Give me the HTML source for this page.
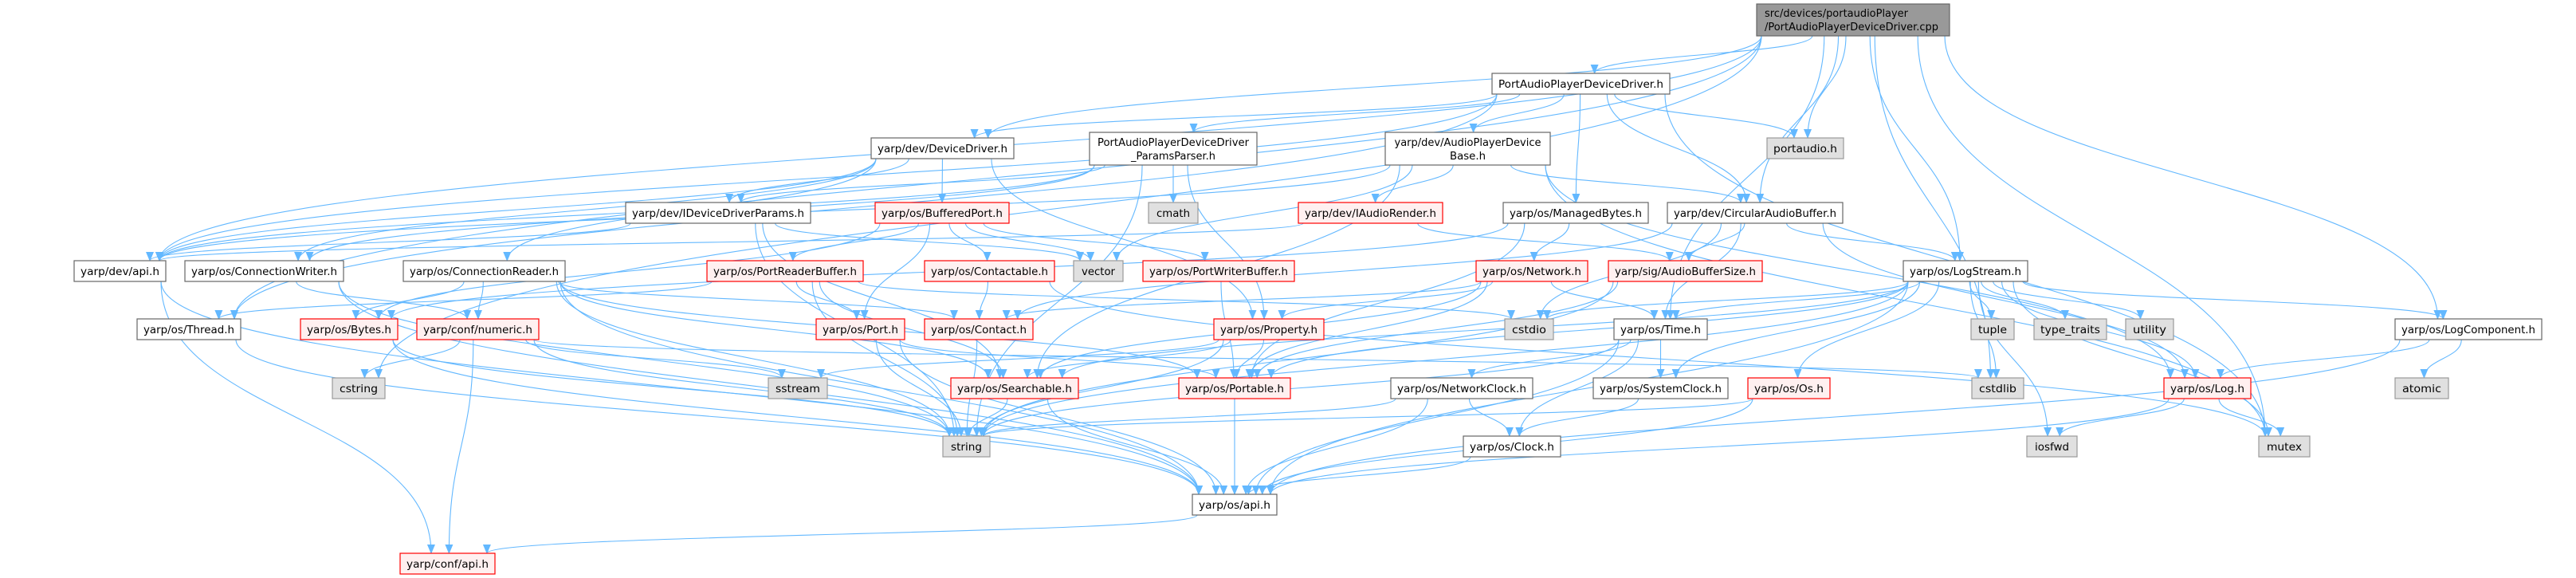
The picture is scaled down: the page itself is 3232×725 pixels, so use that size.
<!DOCTYPE html>
<html><head><meta charset="utf-8"><style>
html,body{margin:0;padding:0;background:#fff;}
svg{display:block;}
text{font-family:"DejaVu Sans","Liberation Sans",sans-serif;font-size:13px;fill:#000;}
.w rect{fill:#fff;stroke:#666;stroke-width:1.2}
.r rect{fill:#fff0f0;stroke:#ff0000;stroke-width:1.2}
.g rect{fill:#e0e0e0;stroke:#999;stroke-width:1.2}
.t rect{fill:#999;stroke:#666;stroke-width:1.2}
.e{fill:none;stroke:#63b8ff;stroke-width:1.1}
</style></head><body>
<svg id="s" width="3232" height="725" viewBox="0 0 3232 725" xmlns="http://www.w3.org/2000/svg">
<defs><marker id="a" markerWidth="12" markerHeight="10" refX="11" refY="5" orient="auto" markerUnits="userSpaceOnUse"><path d="M0,0 L12,5 L0,10 z" fill="#63b8ff"/></marker></defs>
<g id="edges"></g>
<g id="nodes">
<g class="t" id="top"><rect x="2204" y="5" width="242" height="40"/><text x="2214" y="21" textLength="180" lengthAdjust="spacingAndGlyphs">src/devices/portaudioPlayer</text><text x="2214" y="38" textLength="218" lengthAdjust="spacingAndGlyphs">/PortAudioPlayerDeviceDriver.cpp</text></g>
<g class="w" id="padd"><rect x="1872" y="92" width="223" height="26"/><text x="1983.5" y="110" text-anchor="middle" textLength="207" lengthAdjust="spacingAndGlyphs">PortAudioPlayerDeviceDriver.h</text></g>
<g class="w" id="devdrv"><rect x="1093" y="173" width="179" height="26"/><text x="1182.5" y="191" text-anchor="middle" textLength="163" lengthAdjust="spacingAndGlyphs">yarp/dev/DeviceDriver.h</text></g>
<g class="w" id="params"><rect x="1367" y="166" width="210" height="41"/><text x="1472" y="183" text-anchor="middle" textLength="190" lengthAdjust="spacingAndGlyphs">PortAudioPlayerDeviceDriver</text><text x="1472" y="200" text-anchor="middle" textLength="106" lengthAdjust="spacingAndGlyphs">_ParamsParser.h</text></g>
<g class="w" id="apdb"><rect x="1738" y="166" width="207" height="41"/><text x="1841.5" y="183" text-anchor="middle" textLength="184" lengthAdjust="spacingAndGlyphs">yarp/dev/AudioPlayerDevice</text><text x="1841.5" y="200" text-anchor="middle" textLength="45" lengthAdjust="spacingAndGlyphs">Base.h</text></g>
<g class="g" id="portaudio"><rect x="2217" y="173" width="96" height="26"/><text x="2265" y="191" text-anchor="middle" textLength="80" lengthAdjust="spacingAndGlyphs">portaudio.h</text></g>
<g class="w" id="idp"><rect x="785" y="254" width="232" height="26"/><text x="901" y="272" text-anchor="middle" textLength="216" lengthAdjust="spacingAndGlyphs">yarp/dev/IDeviceDriverParams.h</text></g>
<g class="r" id="bport"><rect x="1098" y="254" width="168" height="26"/><text x="1182" y="272" text-anchor="middle" textLength="152" lengthAdjust="spacingAndGlyphs">yarp/os/BufferedPort.h</text></g>
<g class="g" id="cmath"><rect x="1441" y="254" width="62" height="26"/><text x="1472" y="272" text-anchor="middle" textLength="42" lengthAdjust="spacingAndGlyphs">cmath</text></g>
<g class="r" id="iar"><rect x="1629" y="254" width="181" height="26"/><text x="1719.5" y="272" text-anchor="middle" textLength="165" lengthAdjust="spacingAndGlyphs">yarp/dev/IAudioRender.h</text></g>
<g class="w" id="mbytes"><rect x="1886" y="254" width="182" height="26"/><text x="1977" y="272" text-anchor="middle" textLength="166" lengthAdjust="spacingAndGlyphs">yarp/os/ManagedBytes.h</text></g>
<g class="w" id="cab"><rect x="2092" y="254" width="220" height="26"/><text x="2202" y="272" text-anchor="middle" textLength="204" lengthAdjust="spacingAndGlyphs">yarp/dev/CircularAudioBuffer.h</text></g>
<g class="w" id="devapi"><rect x="93" y="327" width="115" height="26"/><text x="150.5" y="345" text-anchor="middle" textLength="99" lengthAdjust="spacingAndGlyphs">yarp/dev/api.h</text></g>
<g class="w" id="cw"><rect x="232" y="327" width="199" height="26"/><text x="331.5" y="345" text-anchor="middle" textLength="183" lengthAdjust="spacingAndGlyphs">yarp/os/ConnectionWriter.h</text></g>
<g class="w" id="cr"><rect x="506" y="327" width="203" height="26"/><text x="607.5" y="345" text-anchor="middle" textLength="187" lengthAdjust="spacingAndGlyphs">yarp/os/ConnectionReader.h</text></g>
<g class="r" id="prb"><rect x="887" y="327" width="196" height="26"/><text x="985" y="345" text-anchor="middle" textLength="180" lengthAdjust="spacingAndGlyphs">yarp/os/PortReaderBuffer.h</text></g>
<g class="r" id="contactable"><rect x="1160" y="327" width="163" height="26"/><text x="1241.5" y="345" text-anchor="middle" textLength="147" lengthAdjust="spacingAndGlyphs">yarp/os/Contactable.h</text></g>
<g class="g" id="vector"><rect x="1347" y="327" width="62" height="26"/><text x="1378" y="345" text-anchor="middle" textLength="42" lengthAdjust="spacingAndGlyphs">vector</text></g>
<g class="r" id="pwb"><rect x="1434" y="327" width="190" height="26"/><text x="1529" y="345" text-anchor="middle" textLength="174" lengthAdjust="spacingAndGlyphs">yarp/os/PortWriterBuffer.h</text></g>
<g class="r" id="network"><rect x="1852" y="327" width="140" height="26"/><text x="1922" y="345" text-anchor="middle" textLength="124" lengthAdjust="spacingAndGlyphs">yarp/os/Network.h</text></g>
<g class="r" id="abs"><rect x="2018" y="327" width="193" height="26"/><text x="2114.5" y="345" text-anchor="middle" textLength="177" lengthAdjust="spacingAndGlyphs">yarp/sig/AudioBufferSize.h</text></g>
<g class="w" id="logstream"><rect x="2388" y="327" width="156" height="26"/><text x="2466" y="345" text-anchor="middle" textLength="140" lengthAdjust="spacingAndGlyphs">yarp/os/LogStream.h</text></g>
<g class="w" id="thread"><rect x="172" y="400" width="130" height="26"/><text x="237" y="418" text-anchor="middle" textLength="114" lengthAdjust="spacingAndGlyphs">yarp/os/Thread.h</text></g>
<g class="r" id="bytes"><rect x="377" y="400" width="122" height="26"/><text x="438" y="418" text-anchor="middle" textLength="106" lengthAdjust="spacingAndGlyphs">yarp/os/Bytes.h</text></g>
<g class="r" id="numeric"><rect x="523" y="400" width="153" height="26"/><text x="599.5" y="418" text-anchor="middle" textLength="137" lengthAdjust="spacingAndGlyphs">yarp/conf/numeric.h</text></g>
<g class="r" id="port"><rect x="1024" y="400" width="111" height="26"/><text x="1079.5" y="418" text-anchor="middle" textLength="95" lengthAdjust="spacingAndGlyphs">yarp/os/Port.h</text></g>
<g class="r" id="contact"><rect x="1160" y="400" width="136" height="26"/><text x="1228" y="418" text-anchor="middle" textLength="120" lengthAdjust="spacingAndGlyphs">yarp/os/Contact.h</text></g>
<g class="r" id="property"><rect x="1523" y="400" width="138" height="26"/><text x="1592" y="418" text-anchor="middle" textLength="122" lengthAdjust="spacingAndGlyphs">yarp/os/Property.h</text></g>
<g class="g" id="cstdio"><rect x="1888" y="400" width="61" height="26"/><text x="1918.5" y="418" text-anchor="middle" textLength="43" lengthAdjust="spacingAndGlyphs">cstdio</text></g>
<g class="w" id="time"><rect x="2025" y="400" width="117" height="26"/><text x="2083.5" y="418" text-anchor="middle" textLength="101" lengthAdjust="spacingAndGlyphs">yarp/os/Time.h</text></g>
<g class="g" id="tuple"><rect x="2473" y="400" width="54" height="26"/><text x="2500" y="418" text-anchor="middle" textLength="36" lengthAdjust="spacingAndGlyphs">tuple</text></g>
<g class="g" id="typetraits"><rect x="2552" y="400" width="91" height="26"/><text x="2597.5" y="418" text-anchor="middle" textLength="75" lengthAdjust="spacingAndGlyphs">type_traits</text></g>
<g class="g" id="utility"><rect x="2667" y="400" width="60" height="26"/><text x="2697" y="418" text-anchor="middle" textLength="42" lengthAdjust="spacingAndGlyphs">utility</text></g>
<g class="w" id="logcomp"><rect x="3005" y="400" width="184" height="26"/><text x="3097" y="418" text-anchor="middle" textLength="168" lengthAdjust="spacingAndGlyphs">yarp/os/LogComponent.h</text></g>
<g class="g" id="cstring"><rect x="417" y="474" width="66" height="26"/><text x="450" y="492" text-anchor="middle" textLength="48" lengthAdjust="spacingAndGlyphs">cstring</text></g>
<g class="g" id="sstream"><rect x="964" y="474" width="74" height="26"/><text x="1001" y="492" text-anchor="middle" textLength="56" lengthAdjust="spacingAndGlyphs">sstream</text></g>
<g class="r" id="searchable"><rect x="1193" y="474" width="160" height="26"/><text x="1273" y="492" text-anchor="middle" textLength="144" lengthAdjust="spacingAndGlyphs">yarp/os/Searchable.h</text></g>
<g class="r" id="portable"><rect x="1479" y="474" width="140" height="26"/><text x="1549" y="492" text-anchor="middle" textLength="124" lengthAdjust="spacingAndGlyphs">yarp/os/Portable.h</text></g>
<g class="w" id="netclock"><rect x="1745" y="474" width="178" height="26"/><text x="1834" y="492" text-anchor="middle" textLength="162" lengthAdjust="spacingAndGlyphs">yarp/os/NetworkClock.h</text></g>
<g class="w" id="sysclock"><rect x="1999" y="474" width="169" height="26"/><text x="2083.5" y="492" text-anchor="middle" textLength="153" lengthAdjust="spacingAndGlyphs">yarp/os/SystemClock.h</text></g>
<g class="r" id="os"><rect x="2193" y="474" width="103" height="26"/><text x="2244.5" y="492" text-anchor="middle" textLength="87" lengthAdjust="spacingAndGlyphs">yarp/os/Os.h</text></g>
<g class="g" id="cstdlib"><rect x="2474" y="474" width="65" height="26"/><text x="2506.5" y="492" text-anchor="middle" textLength="47" lengthAdjust="spacingAndGlyphs">cstdlib</text></g>
<g class="r" id="log"><rect x="2715" y="474" width="109" height="26"/><text x="2769.5" y="492" text-anchor="middle" textLength="93" lengthAdjust="spacingAndGlyphs">yarp/os/Log.h</text></g>
<g class="g" id="atomic"><rect x="3005" y="474" width="67" height="26"/><text x="3038.5" y="492" text-anchor="middle" textLength="49" lengthAdjust="spacingAndGlyphs">atomic</text></g>
<g class="g" id="string"><rect x="1183" y="547" width="59" height="26"/><text x="1212.5" y="565" text-anchor="middle" textLength="39" lengthAdjust="spacingAndGlyphs">string</text></g>
<g class="w" id="clock"><rect x="1836" y="547" width="122" height="26"/><text x="1897" y="565" text-anchor="middle" textLength="106" lengthAdjust="spacingAndGlyphs">yarp/os/Clock.h</text></g>
<g class="g" id="iosfwd"><rect x="2543" y="547" width="63" height="26"/><text x="2574.5" y="565" text-anchor="middle" textLength="43" lengthAdjust="spacingAndGlyphs">iosfwd</text></g>
<g class="g" id="mutex"><rect x="2834" y="547" width="64" height="26"/><text x="2866" y="565" text-anchor="middle" textLength="44" lengthAdjust="spacingAndGlyphs">mutex</text></g>
<g class="w" id="osapi"><rect x="1496" y="620" width="106" height="26"/><text x="1549" y="638" text-anchor="middle" textLength="90" lengthAdjust="spacingAndGlyphs">yarp/os/api.h</text></g>
<g class="r" id="confapi"><rect x="502" y="694" width="119" height="26"/><text x="561.5" y="712" text-anchor="middle" textLength="103" lengthAdjust="spacingAndGlyphs">yarp/conf/api.h</text></g>
</g>
</svg>
<script>
(function(){
var E="top:padd,portaudio,devdrv,devapi,cab,logstream,time,cstdlib,logcomp,mutex,cstring,thread;"+
"padd:devdrv,params,apdb,mbytes,cab,portaudio,mutex,thread,devapi;"+
"params:idp,cmath,devapi,property,string,cw;"+
"devdrv:bport,cr,cw,devapi,property,idp;"+
"apdb:iar,cab,vector,devapi,searchable,log,mutex;"+
"idp:devapi,string,searchable,vector;"+
"bport:prb,contactable,pwb,vector,port,bytes;"+
"iar:abs,devapi;"+
"mbytes:network,bytes,portable;"+
"cab:logstream,abs,log,time,cstdio,contact;"+
"devapi:osapi,confapi;"+
"cw:numeric,string,osapi;"+
"cr:bytes,numeric,contact,searchable,string,portable,osapi;"+
"prb:thread,port,string,searchable,cstdio;"+
"contactable:contact,mutex;"+
"pwb:portable;"+
"network:property,time,portable,searchable,contact;"+
"abs:portable,string;"+
"logstream:tuple,typetraits,utility,logcomp,log,cstdlib,iosfwd,os,time,cstdio,sysclock,searchable,string,osapi,mutex,portable;"+
"thread:osapi;bytes:osapi,string;numeric:confapi,cstring,sstream,string,cstdlib;"+
"port:osapi,portable,string;contact:string;property:searchable,portable,string,sstream;"+
"time:netclock,sysclock,clock,string,osapi;logcomp:log,atomic,osapi;searchable:string,osapi;"+
"portable:osapi;netclock:clock,osapi,string;sysclock:clock;os:osapi,string;log:iosfwd,mutex,osapi;"+
"clock:osapi;osapi:confapi";
var ns="http://www.w3.org/2000/svg",G=document.getElementById("edges");
function box(id){var r=document.getElementById(id).querySelector("rect");
return {x:+r.getAttribute("x"),y:+r.getAttribute("y"),w:+r.getAttribute("width"),h:+r.getAttribute("height")};}
E.split(";").forEach(function(l){var p=l.split(":");var s=box(p[0]);
p[1].split(",").forEach(function(t){var b=box(t);
var scx=s.x+s.w/2,tcx=b.x+b.w/2;
var sx=scx+(tcx-scx)*0.15;sx=Math.max(s.x+6,Math.min(s.x+s.w-6,sx));
var sy=s.y+s.h;
var tx=tcx+(scx-tcx)*0.05;tx=Math.max(b.x+8,Math.min(b.x+b.w-8,tx));
var ty=b.y;var dy=ty-sy;
var d="M"+sx+","+sy+" C"+sx+","+(sy+dy*0.5)+" "+tx+","+(ty-dy*0.5)+" "+tx+","+ty;
var pa=document.createElementNS(ns,"path");pa.setAttribute("d",d);pa.setAttribute("class","e");
pa.setAttribute("marker-end","url(#a)");G.appendChild(pa);});});
})();
</script>
</body></html>
